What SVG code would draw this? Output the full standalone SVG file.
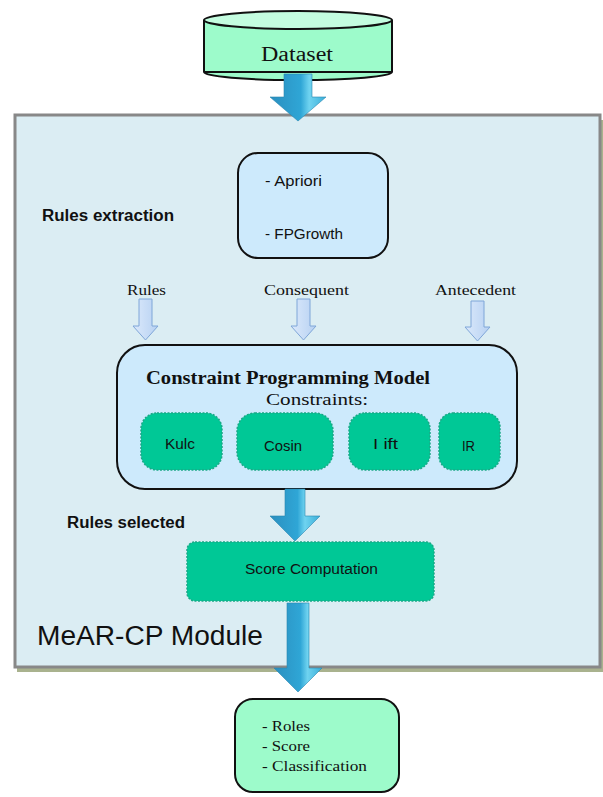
<svg xmlns="http://www.w3.org/2000/svg" width="603" height="797" viewBox="0 0 603 797">
<defs>
<linearGradient id="blueArrow" x1="0" y1="0" x2="1" y2="0">
<stop offset="0" stop-color="#2b8fbf"/>
<stop offset="0.55" stop-color="#2fa6d6"/>
<stop offset="0.7" stop-color="#6fd3f0"/>
<stop offset="1" stop-color="#3aaed8"/>
</linearGradient>
<linearGradient id="paleArrow" x1="0" y1="0" x2="1" y2="0">
<stop offset="0" stop-color="#dbe9fb"/>
<stop offset="1" stop-color="#b7d1f2"/>
</linearGradient>
</defs>
<style>
.serif{font-family:"Liberation Serif","DejaVu Serif",serif;fill:#111}
.sans{font-family:"Liberation Sans","DejaVu Sans",sans-serif;fill:#111}
.bold{font-weight:bold}
.green{fill:#00c896;stroke:#1aa886;stroke-width:1.5;stroke-dasharray:2 1.5}
.big{fill:url(#blueArrow);stroke:#2a86b0;stroke-width:0.6}
.small{fill:url(#paleArrow);stroke:#7fa6d8;stroke-width:1}
</style>

<g id="module">
<rect x="17" y="120" width="586" height="552" fill="#a9b28e"/>
<rect x="15" y="115" width="585" height="552" fill="#dbedf3" stroke="#888" stroke-width="3"/>
<text x="37" y="645" class="sans" font-size="27" textLength="226" lengthAdjust="spacingAndGlyphs">MeAR-CP Module</text>
<text x="42" y="221" class="sans bold" font-size="16" textLength="132" lengthAdjust="spacingAndGlyphs">Rules extraction</text>
<text x="67" y="528" class="sans bold" font-size="16" textLength="118" lengthAdjust="spacingAndGlyphs">Rules selected</text>
</g>

<g id="dataset">
<path d="M204,20 L204,72 A93,8 0 0 0 392,72 L392,20" fill="#9dfbcb" stroke="#111" stroke-width="2"/>
<path d="M204,72 L392,72" stroke="#111" stroke-width="2"/>
<ellipse cx="298" cy="20" rx="94" ry="9" fill="#c4fde0" stroke="#111" stroke-width="2"/>
<text x="261" y="61" class="serif" font-size="20" textLength="72" lengthAdjust="spacingAndGlyphs">Dataset</text>
</g>

<g id="algorithms">
<rect x="238" y="153" width="150" height="105" rx="20" fill="#cdeafc" stroke="#111" stroke-width="2"/>
<text x="265" y="186" class="sans" font-size="14" textLength="57" lengthAdjust="spacingAndGlyphs">- Apriori</text>
<text x="265" y="239" class="sans" font-size="14" textLength="78" lengthAdjust="spacingAndGlyphs">- FPGrowth</text>
</g>

<g id="labels">
<text x="127" y="295" class="serif" font-size="15" textLength="39" lengthAdjust="spacingAndGlyphs">Rules</text>
<text x="264" y="295" class="serif" font-size="15" textLength="85" lengthAdjust="spacingAndGlyphs">Consequent</text>
<text x="435" y="295" class="serif" font-size="15" textLength="81" lengthAdjust="spacingAndGlyphs">Antecedent</text>
</g>

<g id="cp-model">
<rect x="117" y="345" width="400" height="144" rx="28" fill="#cdeafc" stroke="#111" stroke-width="2"/>
<text x="146" y="384" class="serif bold" font-size="18" textLength="284" lengthAdjust="spacingAndGlyphs">Constraint Programming Model</text>
<text x="266" y="405" class="serif" font-size="17" textLength="102" lengthAdjust="spacingAndGlyphs">Constraints:</text>
</g>

<g id="kulc">
<rect x="141" y="413" width="81" height="57" rx="16" class="green"/>
<text x="165" y="449" class="sans" font-size="14" textLength="30" lengthAdjust="spacingAndGlyphs">Kulc</text>
</g>
<g id="cosin">
<rect x="237" y="413" width="96" height="57" rx="18" class="green"/>
<text x="264" y="451" class="sans" font-size="14" textLength="38" lengthAdjust="spacingAndGlyphs">Cosin</text>
</g>
<g id="lift">
<rect x="349" y="413" width="81" height="57" rx="16" class="green"/>
<text x="373" y="449" class="sans" font-size="14" textLength="25" lengthAdjust="spacingAndGlyphs">I ift</text>
</g>
<g id="ir">
<rect x="439" y="413" width="61" height="57" rx="14" class="green"/>
<text x="462" y="451" class="sans" font-size="14" textLength="13" lengthAdjust="spacingAndGlyphs">IR</text>
</g>

<g id="score">
<rect x="187" y="542" width="247" height="59" rx="8" class="green"/>
<text x="245" y="574" class="sans" font-size="14" textLength="133" lengthAdjust="spacingAndGlyphs">Score Computation</text>
</g>

<g id="output">
<rect x="235" y="699" width="164" height="93" rx="18" fill="#9dfbcb" stroke="#111" stroke-width="2"/>
<text x="262" y="731" class="serif" font-size="15" textLength="48" lengthAdjust="spacingAndGlyphs">- Roles</text>
<text x="262" y="751" class="serif" font-size="15" textLength="48" lengthAdjust="spacingAndGlyphs">- Score</text>
<text x="262" y="771" class="serif" font-size="15" textLength="105" lengthAdjust="spacingAndGlyphs">- Classification</text>
</g>

<g id="connectors">
<path class="big" d="M284,74 L312,74 L312,97 L326,97 L298,121 L270,97 L284,97 Z"/>
<path class="small" d="M139,299 L152,299 L152,326 L158,326 L145.5,340 L133,326 L139,326 Z"/>
<path class="small" d="M297,299 L310,299 L310,326 L316,326 L303.5,340 L291,326 L297,326 Z"/>
<path class="small" d="M471,301 L484,301 L484,327 L490,327 L477.5,341 L465,327 L471,327 Z"/>
<path class="big" d="M285,489 L305,489 L305,516 L320,516 L295,541 L270,516 L285,516 Z"/>
<path class="big" d="M287,603 L309,603 L309,668 L322,668 L298,692 L274,668 L287,668 Z"/>
</g>
</svg>
